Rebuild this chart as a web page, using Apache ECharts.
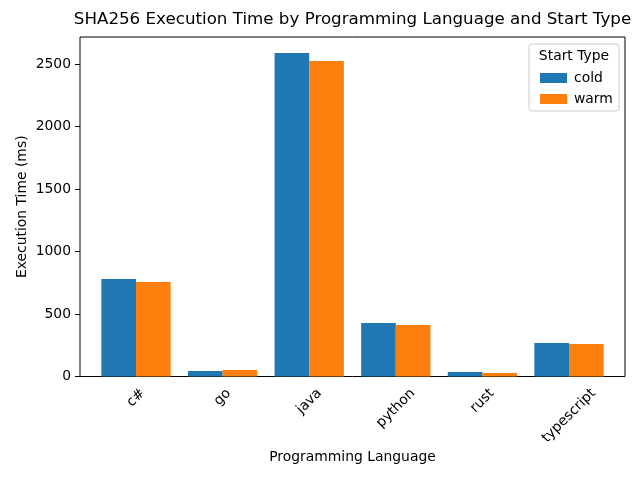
<!DOCTYPE html>
<html>
<head>
    <meta charset="utf-8" />
    <title>SHA256 Execution Time</title>
    <style>
        html, body {
            margin: 0;
            padding: 0;
            background: #fff;
        }
        #chart {
            width: 640px;
            height: 480px;
        }
    </style>
    <script src="https://cdn.jsdelivr.net/npm/echarts@6/dist/echarts.min.js"></script>
</head>
<body>
    <div id="chart"></div>
    <script>
        var languages = ['c#', 'go', 'java', 'python', 'rust', 'typescript'];
        var coldTimes = [780, 44, 2588, 428, 36, 268];
        var warmTimes = [756, 52, 2524, 412, 28, 260];
        var yMax = 2717;

        var font = 'DejaVu Sans';
        var fs = 13.9;

        // rotated labels: centre them under the tick like matplotlib does
        var ctx = document.createElement('canvas').getContext('2d');
        ctx.font = fs + 'px ' + font;
        var rich = {};
        languages.forEach(function (name, i) {
            var w = ctx.measureText(name).width;
            var p = (w + 14) * 0.5;
            rich['l' + i] = {
                fontFamily: font,
                fontSize: fs,
                lineHeight: 16,
                color: '#000',
                padding: [p, p, 0, 0]
            };
        });

        var chart = echarts.init(document.getElementById('chart'));
        var option = {
            animation: false,
            backgroundColor: '#fff',
            title: {
                text: 'SHA256 Execution Time by Programming Language and Start Type',
                left: 352.5,
                top: 11,
                padding: 0,
                textAlign: 'center',
                textStyle: {
                    fontFamily: font,
                    fontSize: 16.7,
                    fontWeight: 'normal',
                    color: '#000'
                }
            },
            grid: [
                { left: 80, right: 15, top: 37, bottom: 103.5, show: true, borderColor: '#000', borderWidth: 1, backgroundColor: 'transparent' },
                { left: 92.7, right: 27.7, top: 37, bottom: 103.5 }
            ],
            xAxis: [
                {
                    gridIndex: 0,
                    type: 'value',
                    min: 0,
                    max: 1,
                    name: 'Programming Language',
                    nameLocation: 'middle',
                    nameGap: 74,
                    nameMoveOverlap: false,
                    nameTextStyle: { fontFamily: font, fontSize: fs, color: '#000' },
                    axisLine: { show: false },
                    axisTick: { show: false },
                    axisLabel: { show: false },
                    splitLine: { show: false }
                },
                {
                    gridIndex: 1,
                    type: 'category',
                    data: languages,
                    axisLine: { show: false },
                    axisTick: {
                        alignWithLabel: true,
                        length: 5,
                        lineStyle: { color: '#000' }
                    },
                    axisLabel: {
                        interval: 0,
                        rotate: 45,
                        margin: 9.7,
                        align: 'center',
                        verticalAlign: 'middle',
                        hideOverlap: false,
                        formatter: function (value) {
                            return '{l' + languages.indexOf(value) + '|' + value + '}';
                        },
                        rich: rich
                    }
                }
            ],
            yAxis: [
                {
                    gridIndex: 0,
                    type: 'value',
                    min: 0,
                    max: yMax,
                    interval: 500,
                    name: 'Execution Time (ms)',
                    nameLocation: 'middle',
                    nameGap: 51,
                    nameMoveOverlap: false,
                    nameTextStyle: { fontFamily: font, fontSize: fs, color: '#000' },
                    axisLine: { show: false },
                    axisTick: { show: true, length: 5, lineStyle: { color: '#000' } },
                    axisLabel: {
                        margin: 9,
                        fontFamily: font,
                        fontSize: fs,
                        color: '#000',
                        showMaxLabel: false,
                        formatter: function (v) { return String(v); }
                    },
                    splitLine: { show: false }
                },
                {
                    gridIndex: 1,
                    type: 'value',
                    min: 0,
                    max: yMax,
                    show: false
                }
            ],
            legend: {
                orient: 'vertical',
                left: 535,
                top: 66,
                itemWidth: 27,
                itemHeight: 10,
                itemGap: 7,
                icon: 'rect',
                textStyle: {
                    fontFamily: font,
                    fontSize: fs,
                    color: '#000',
                    padding: [0, 0, 0, 2]
                },
                data: ['cold', 'warm']
            },
            graphic: [
                {
                    type: 'rect',
                    z: 0,
                    shape: { x: 529, y: 44, width: 90, height: 67, r: 3 },
                    style: { fill: 'rgba(255,255,255,0.8)', stroke: '#cccccc', lineWidth: 1 }
                },
                {
                    type: 'text',
                    z: 1,
                    x: 574,
                    y: 56,
                    style: {
                        text: 'Start Type',
                        font: fs + 'px ' + font,
                        fill: '#000',
                        align: 'center',
                        verticalAlign: 'middle'
                    }
                }
            ],
            series: [
                {
                    name: 'cold',
                    type: 'bar',
                    xAxisIndex: 1,
                    yAxisIndex: 1,
                    barWidth: '40%',
                    barGap: '0%',
                    itemStyle: { color: '#1f77b4' },
                    data: coldTimes
                },
                {
                    name: 'warm',
                    type: 'bar',
                    xAxisIndex: 1,
                    yAxisIndex: 1,
                    barWidth: '40%',
                    barGap: '0%',
                    itemStyle: { color: '#ff7f0e' },
                    data: warmTimes
                }
            ]
        };
        chart.setOption(option);
    </script>
</body>
</html>
